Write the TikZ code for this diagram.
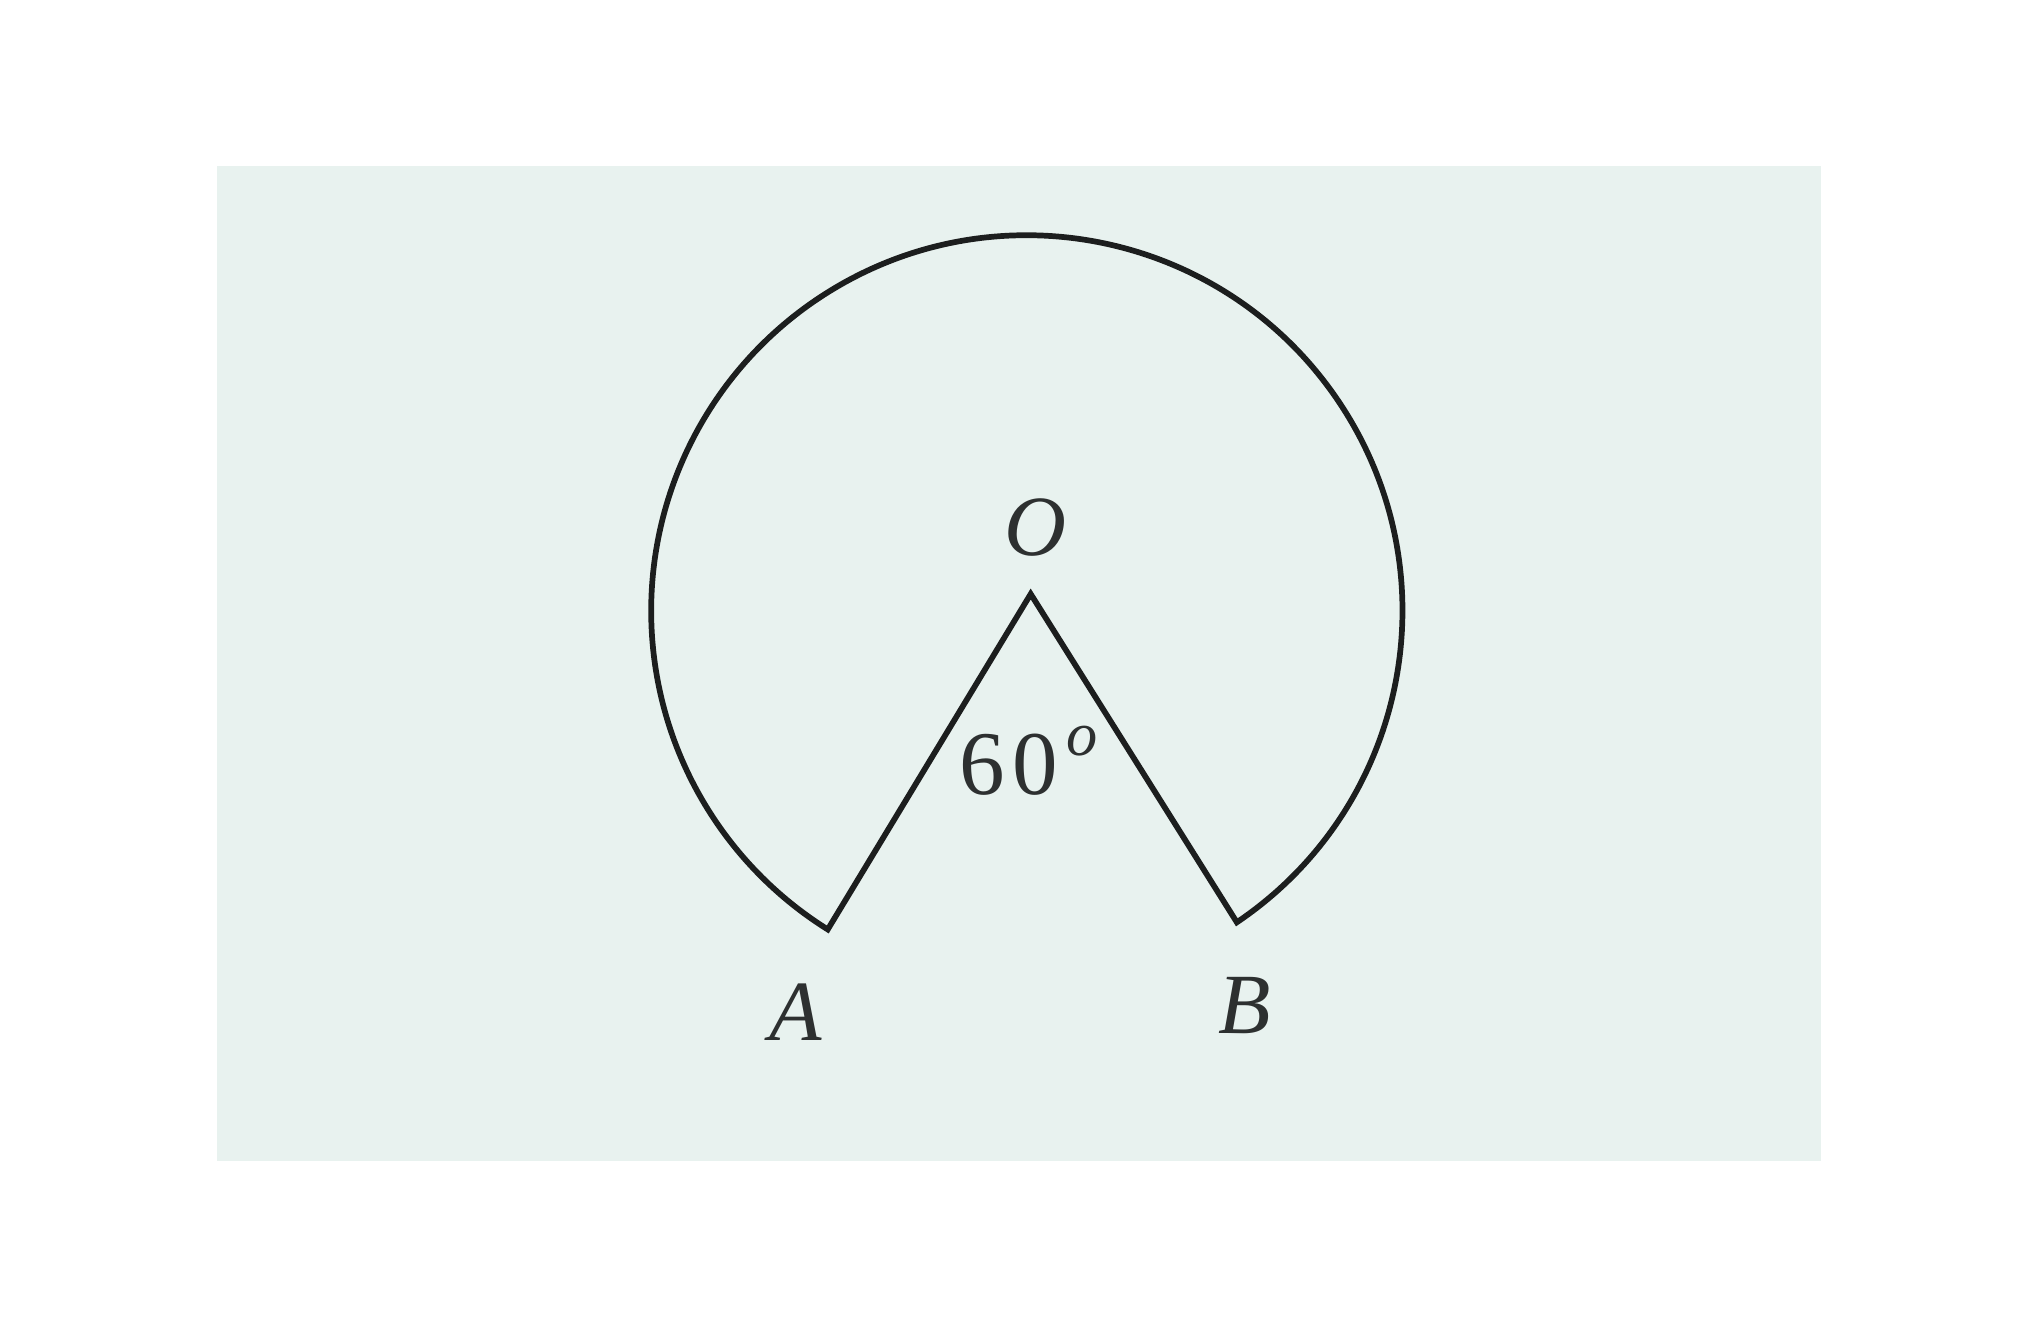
\documentclass[tikz,border=0pt]{standalone}
\usepackage{fontspec}
\setmainfont{Liberation Serif}
\definecolor{paper}{RGB}{232,242,239}
\definecolor{ink}{RGB}{28,30,30}
\definecolor{txt}{RGB}{45,48,48}
\begin{document}
\begin{tikzpicture}[x=1pt,y=1pt,
  lbl/.style={inner sep=0pt,text=txt,font=\fontsize{66}{72}\selectfont},
  outline/.style={draw=ink,line width=4.4pt,line join=miter}]
\useasboundingbox (0,0) rectangle (1568,-1026);
\fill[white] (0,0) rectangle (1568,-1026);
\fill[paper] (167,-128) rectangle (1401,-893);
\coordinate (C) at (790,-470);
\coordinate (O) at (793,-457);
\coordinate (B) at ([shift={(-56:289)}]C);
\coordinate (A) at ([shift={(238:289)}]C);
\draw[outline] (O) -- (B) arc[start angle=-56,end angle=238,radius=289] -- (A) -- cycle;
\node[lbl] (lO) at (797,-406) {\textit{O}};
\node[lbl,anchor=base west] (lang) at (738,-611) {\fontsize{70}{72}\selectfont 6\hspace{6pt}0\hspace{6pt}\raisebox{0.42em}{\fontsize{48}{48}\selectfont\itshape o}};
\node[lbl] (lA) at (612,-779) {\textit{A}};
\node[lbl] (lB) at (958,-774) {\textit{B}};
\end{tikzpicture}
\end{document}
